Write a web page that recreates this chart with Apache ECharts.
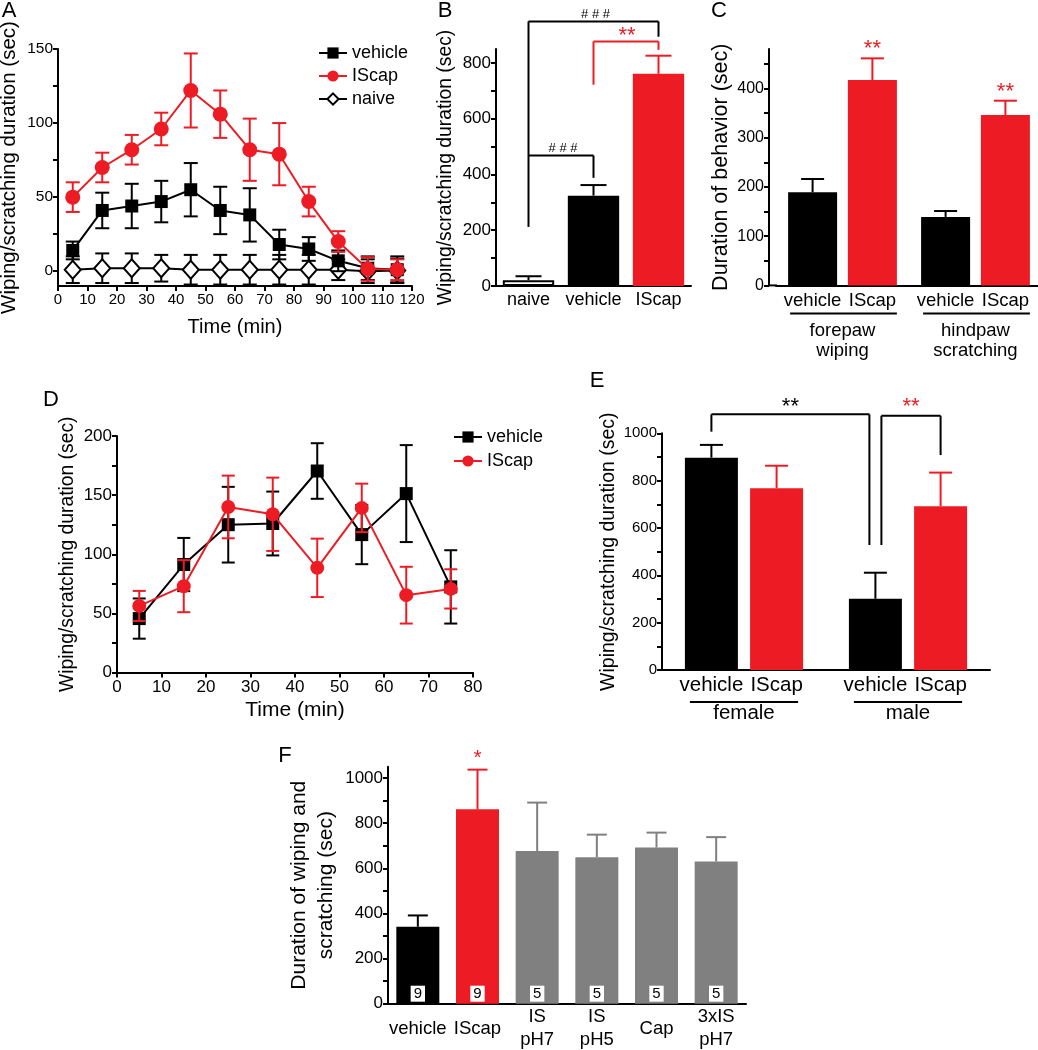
<!DOCTYPE html>
<html><head><meta charset="utf-8">
<script src="https://cdn.jsdelivr.net/npm/echarts@6/dist/echarts.min.js"></script>
<style>html,body{margin:0;padding:0;background:#fff}#c{width:1038px;height:1050px}</style>
</head><body><div id="c"></div>
<script>
// ---------- DATA ----------
// Panel A
const timeA = [5, 15, 25, 35, 45, 55, 65, 75, 85, 95, 105, 115];
const vehA = [14, 41, 44, 47, 55, 41, 38, 18, 15, 7, 2, 1];
const vehAErr = [6, 12, 15, 14, 18, 16, 18, 10, 8, 7, 8, 9];
const iscA = [50, 70, 82, 96, 122, 106, 82, 79, 47, 20, 1.5, 1];
const iscAErr = [10, 10, 10, 11, 25, 16, 21, 21, 10, 7, 8, 7];
const naiA = [1, 2, 2, 2, 1, 1, 1, 1, 1, 1, 0, 0.5];
const naiAErr = [9, 10, 10, 9, 10, 10, 10, 10, 10, 7, 8, 8];
// Panel B
const catsB = ['naive', 'vehicle', 'IScap'];
const valB = [21, 324, 761];
const errB = [14, 38, 65];
// Panel C
const groupsC = ['forepaw\nwiping', 'hindpaw\nscratching'];
const subLabels = ['vehicle', 'IScap'];
const vehC = [189, 139];
const vehCErr = [27, 12];
const iscC = [417, 346];
const iscCErr = [44, 29];
// Panel D
const timeD = [5, 15, 25, 35, 45, 55, 65, 75];
const vehD = [45.6, 91.3, 125, 126, 170.4, 116.6, 151.3, 72.4];
const vehDErr = [17, 22.5, 32, 27, 23.5, 25, 41, 31];
const iscD = [56.3, 73, 140, 133.8, 88.5, 139.2, 65.4, 70.7];
const iscDErr = [12.7, 22, 26.5, 31, 24.7, 20.5, 24, 16.6];
// Panel E
const groupsE = ['female', 'male'];
const vehE = [897, 301];
const vehEErr = [54, 110];
const iscE = [768, 692];
const iscEErr = [95, 142];
// Panel F
const catsF = ['vehicle', 'IScap', 'IS\npH7', 'IS\npH5', 'Cap', '3xIS\npH7'];
const valF = [341, 861, 676, 649, 692, 630];
const errF = [50, 176, 215, 100, 66, 108];
const nF = [9, 9, 5, 5, 5, 5];
// tick / label values
const ticksA = [0, 25, 50, 75, 100, 125, 150], labelsA = [0, 50, 100, 150];
const ticksB = [0, 100, 200, 300, 400, 500, 600, 700, 800], labelsB = [0, 200, 400, 600, 800];
const ticksC = [0, 50, 100, 150, 200, 250, 300, 350, 400, 450], labelsC = [0, 100, 200, 300, 400];
const ticksD = [0, 25, 50, 75, 100, 125, 150, 175, 200], labelsD = [0, 50, 100, 150, 200];
const ticksE = [0, 100, 200, 300, 400, 500, 600, 700, 800, 900, 1000], labelsE = [0, 200, 400, 600, 800, 1000];
const ticksF = [0, 100, 200, 300, 400, 500, 600, 700, 800, 900, 1000], labelsF = [0, 200, 400, 600, 800, 1000];
// significance annotations (data units)
const bracketsB = [ // [fromCat, toCat, level, leftEnd, rightEnd, text, color, textLevel]
  [0, 2, 949, 212, 894, '# # #', '#000', 975],
  [0, 1, 468, 468, 388, '# # #', '#000', 495],
  [1, 2, 877, 722, 847, '**', '#ED1C24', 896]
];
const bracketsE = { a: [1080, 1007, 528, 1110], b: [1074, 528, 908, 1110] };
const starC = [[0, '**'], [1, '**']];
const starF = [[1, '*']];

// ---------- STYLE ----------
const RED = '#ED1C24', GRAY = '#808080', FF = 'Liberation Sans, Arial, sans-serif';
const chart = echarts.init(document.getElementById('c'));

function yAx(grid, min, max, ticks, labels, fs, name, nameFs, nameGap, extra) {
  return Object.assign({
    type: 'value', gridIndex: grid, min: min, max: max,
    name: name, nameLocation: 'middle', nameGap: nameGap,
    nameTextStyle: { fontSize: nameFs, color: '#000', fontFamily: FF },
    axisLine: { show: true, onZero: false, lineStyle: { color: '#000', width: 2 } },
    axisTick: { show: true, length: 5, customValues: ticks, lineStyle: { color: '#000', width: 2 } },
    axisLabel: { customValues: labels, fontSize: fs, color: '#000', margin: 5, fontFamily: FF, formatter: v => String(v) },
    splitLine: { show: false }
  }, extra || {});
}
function xVal(grid, max, fs, nameFs, nameGap) {
  return {
    type: 'value', gridIndex: grid, min: 0, max: max, interval: 10,
    name: 'Time (min)', nameLocation: 'middle', nameGap: nameGap,
    nameTextStyle: { fontSize: nameFs, color: '#000', fontFamily: FF },
    axisLine: { show: true, onZero: false, lineStyle: { color: '#000', width: 2 } },
    axisTick: { show: true, length: 5, lineStyle: { color: '#000', width: 2 } },
    axisLabel: { fontSize: fs, color: '#000', margin: 6, hideOverlap: false, fontFamily: FF, formatter: v => String(v) },
    splitLine: { show: false }
  };
}
function xCat(grid, data, fs, margin, extraLabel) {
  return {
    type: 'category', gridIndex: grid, data: data,
    axisLine: { show: true, onZero: false, lineStyle: { color: '#000', width: 2 } },
    axisTick: { show: false },
    axisLabel: Object.assign({ interval: 0, fontSize: fs, color: '#000', margin: margin, fontFamily: FF }, extraLabel || {}),
    splitLine: { show: false }
  };
}
function errRender(capHalf, color, offsetPx, upOnly) {
  return function (params, api) {
    const x = api.value(0), y = api.value(1), e = api.value(2);
    const top = api.coord([x, y + e]);
    const bot = api.coord([x, upOnly ? y : y - e]);
    const c = typeof color === 'function' ? color(params.dataIndex) : color;
    const cx = top[0] + offsetPx;
    const st = { stroke: c, lineWidth: 2 };
    const ch = [
      { type: 'line', shape: { x1: cx, y1: top[1], x2: cx, y2: bot[1] }, style: st },
      { type: 'line', shape: { x1: cx - capHalf, y1: top[1], x2: cx + capHalf, y2: top[1] }, style: st }
    ];
    if (!upOnly) ch.push({ type: 'line', shape: { x1: cx - capHalf, y1: bot[1], x2: cx + capHalf, y2: bot[1] }, style: st });
    return { type: 'group', children: ch };
  };
}
function errData(xs, vals, errs) { return vals.map((v, i) => [xs[i], v, errs[i]]); }
function pts(xs, vals) { return vals.map((v, i) => [xs[i], v]); }
const idx = n => n.map((_, i) => i);
function errS(xi, render, data, z) {
  return { type: 'custom', xAxisIndex: xi, yAxisIndex: xi, renderItem: render, encode: { x: 0, y: 1 }, data: data, z: z, silent: true };
}

const option = {
  animation: false,
  textStyle: { fontFamily: FF, color: '#000' },
  grid: [
    { left: 58, top: 49, width: 354, height: 237, outerBoundsMode: 'none' },
    { left: 496, top: 49, width: 195, height: 237, outerBoundsMode: 'none' },
    { left: 776, top: 49, width: 266, height: 236.4, outerBoundsMode: 'none' },
    { left: 117, top: 436, width: 356, height: 236.5, outerBoundsMode: 'none' },
    { left: 662, top: 433.3, width: 328, height: 236.7, outerBoundsMode: 'none' },
    { left: 388, top: 766.7, width: 358, height: 237, outerBoundsMode: 'none' }
  ],
  xAxis: [
    xVal(0, 120, 15, 20, 31),
    xCat(1, catsB, 18, 5),
    xCat(2, groupsC, 18.5, 36, { lineHeight: 20 }),
    xVal(3, 80, 17, 21, 27),
    xCat(4, groupsE, 20.5, 33),
    xCat(5, catsF, 18.5, 25, { verticalAlign: 'middle', lineHeight: 23 })
  ],
  yAxis: [
    yAx(0, -10, 150, ticksA, labelsA, 15.5, 'Wiping/scratching duration (sec)', 20.5, 38),
    yAx(1, 0, 850, ticksB, labelsB, 17, 'Wiping/scratching duration (sec)', 19.3, 41),
    yAx(2, 0, 480, ticksC, labelsC, 16, 'Duration of behavior (sec)', 21.5, 37, { offset: 7 }),
    yAx(3, 0, 200, ticksD, labelsD, 17, 'Wiping/scratching duration (sec)', 19.3, 40),
    yAx(4, 0, 1000, ticksE, labelsE, 15, 'Wiping/scratching duration (sec)', 19.5, 43),
    yAx(5, 0, 1050, ticksF, labelsF, 17, 'Duration of wiping and\nscratching (sec)', 21, 48, { nameTextStyle: { fontSize: 21, color: '#000', fontFamily: FF, lineHeight: 27 } })
  ],
  legend: [
    { data: ['vehicle', 'IScap', 'naive'], orient: 'vertical', left: 318, top: 44, padding: 0, itemWidth: 28, itemHeight: 14, itemGap: 5,
      textStyle: { fontSize: 18, color: '#000', fontFamily: FF }, selectedMode: false },
    { data: ['vehicle', 'IScap'], orient: 'vertical', left: 453, top: 428, padding: 0, itemWidth: 28, itemHeight: 14, itemGap: 6,
      textStyle: { fontSize: 18, color: '#000', fontFamily: FF }, selectedMode: false }
  ],
  series: [
    // ----- A -----
    errS(0, errRender(7, '#000', 0, false), errData(timeA, naiA, naiAErr), 2),
    { type: 'line', name: 'naive', xAxisIndex: 0, yAxisIndex: 0, data: pts(timeA, naiA), symbol: 'diamond', symbolSize: [16, 18],
      itemStyle: { color: '#fff', borderColor: '#000', borderWidth: 2 }, lineStyle: { color: '#000', width: 2 }, z: 3 },
    errS(0, errRender(7, '#000', 0, false), errData(timeA, vehA, vehAErr), 4),
    { type: 'line', name: 'vehicle', xAxisIndex: 0, yAxisIndex: 0, data: pts(timeA, vehA), symbol: 'rect', symbolSize: 13,
      itemStyle: { color: '#000' }, lineStyle: { color: '#000', width: 2 }, z: 5 },
    errS(0, errRender(7, RED, 0, false), errData(timeA, iscA, iscAErr), 6),
    { type: 'line', name: 'IScap', xAxisIndex: 0, yAxisIndex: 0, data: pts(timeA, iscA), symbol: 'circle', symbolSize: 15,
      itemStyle: { color: RED }, lineStyle: { color: RED, width: 2 }, z: 7 },
    // ----- B -----
    { type: 'bar', id: 'B-bar', xAxisIndex: 1, yAxisIndex: 1, barWidth: '79%',
      data: valB.map((v, i) => ({ value: v, itemStyle: i === 0 ? { color: '#fff', borderColor: '#000', borderWidth: 2 } : { color: i === 1 ? '#000' : RED } })) },
    errS(1, errRender(13, i => (i === 2 ? RED : '#000'), 0, true), errData(idx(valB), valB, errB), 3),
    // ----- C -----
    { type: 'bar', id: 'C-veh', name: 'C-vehicle', xAxisIndex: 2, yAxisIndex: 2, barWidth: 49, barGap: '22%', data: vehC, itemStyle: { color: '#000' },
      label: { show: true, position: 'bottom', distance: 6, formatter: () => subLabels[0], fontSize: 18.5, color: '#000', fontFamily: FF } },
    { type: 'bar', id: 'C-isc', name: 'C-IScap', xAxisIndex: 2, yAxisIndex: 2, barWidth: 49, barGap: '22%', data: iscC, itemStyle: { color: RED },
      label: { show: true, position: 'bottom', distance: 6, formatter: () => subLabels[1], fontSize: 18.5, color: '#000', fontFamily: FF } },
    errS(2, errRender(11.5, '#000', -29.9, true), errData(idx(vehC), vehC, vehCErr), 3),
    errS(2, errRender(11.5, RED, 29.9, true), errData(idx(iscC), iscC, iscCErr), 3),
    // ----- D -----
    errS(3, errRender(6.5, '#000', 0, false), errData(timeD, vehD, vehDErr), 2),
    { type: 'line', name: 'vehicle', xAxisIndex: 3, yAxisIndex: 3, data: pts(timeD, vehD), symbol: 'rect', symbolSize: 13,
      itemStyle: { color: '#000' }, lineStyle: { color: '#000', width: 2 }, z: 3 },
    errS(3, errRender(6.5, RED, 0, false), errData(timeD, iscD, iscDErr), 4),
    { type: 'line', name: 'IScap', xAxisIndex: 3, yAxisIndex: 3, data: pts(timeD, iscD), symbol: 'circle', symbolSize: 14,
      itemStyle: { color: RED }, lineStyle: { color: RED, width: 2 }, z: 5 },
    // ----- E -----
    { type: 'bar', id: 'E-veh', name: 'E-vehicle', xAxisIndex: 4, yAxisIndex: 4, barWidth: 53, barGap: '23%', data: vehE, itemStyle: { color: '#000' },
      label: { show: true, position: 'bottom', distance: 5, formatter: () => subLabels[0], fontSize: 20.5, color: '#000', fontFamily: FF } },
    { type: 'bar', id: 'E-isc', name: 'E-IScap', xAxisIndex: 4, yAxisIndex: 4, barWidth: 53, barGap: '23%', data: iscE, itemStyle: { color: RED },
      label: { show: true, position: 'bottom', distance: 5, formatter: () => subLabels[1], fontSize: 20.5, color: '#000', fontFamily: FF } },
    errS(4, errRender(11.5, '#000', -32.6, true), errData(idx(vehE), vehE, vehEErr), 3),
    errS(4, errRender(11.5, RED, 32.6, true), errData(idx(iscE), iscE, iscEErr), 3),
    // ----- F -----
    { type: 'bar', id: 'F-bar', xAxisIndex: 5, yAxisIndex: 5, barWidth: 43,
      data: valF.map((v, i) => ({ value: v, itemStyle: { color: i === 0 ? '#000' : (i === 1 ? RED : GRAY) } })),
      label: { show: true, position: 'insideBottom', distance: 2, formatter: p => String(nF[p.dataIndex]), backgroundColor: '#fff',
        padding: [1, 3, 0, 3], fontSize: 15, color: '#000', fontFamily: FF } },
    errS(5, errRender(10, i => (i === 0 ? '#000' : (i === 1 ? RED : GRAY)), 0, true), errData(idx(valF), valF, errF), 3)
  ]
};
chart.setOption(option);

// ---------- annotations (positions derived from data through the axes) ----------
function P(grid, x, y) { return chart.convertToPixel({ gridIndex: grid }, [x, y]); }
function barLay(id, i) {
  const s = chart.getModel().getSeries().find(m => m.id === id);
  const l = s.getData().getItemLayout(i);
  return { x0: Math.min(l.x, l.x + l.width), x1: Math.max(l.x, l.x + l.width), cx: l.x + l.width / 2 };
}
const G = [];
function line(x1, y1, x2, y2, c) { G.push({ type: 'line', shape: { x1, y1, x2, y2 }, style: { stroke: c || '#000', lineWidth: 2 }, z: 100 }); }
function text(x, y, t, size, c) {
  G.push({ type: 'text', x, y, style: { text: t, fill: c || '#000', font: size + 'px ' + FF, textAlign: 'center', textVerticalAlign: 'middle' }, z: 100 });
}
// panel letters
text(9, 11, 'A', 22); text(445, 11, 'B', 22); text(719, 11, 'C', 22);
text(51, 400, 'D', 22); text(597, 381, 'E', 22); text(285, 756, 'F', 22);

// B brackets
bracketsB.forEach(b => {
  const l = P(1, b[0], b[2]), r = P(1, b[1], b[2]);
  const le = P(1, b[0], b[3]), re = P(1, b[1], b[4]);
  line(l[0], l[1], r[0], r[1], b[6]);
  line(l[0], l[1], le[0], le[1], b[6]);
  line(r[0], r[1], re[0], re[1], b[6]);
  const ty = P(1, b[0], b[7])[1];
  text((l[0] + r[0]) / 2 + (b[5][0] === '#' ? 2 : 1), ty, b[5], b[5][0] === '#' ? 13 : 22, b[6]);
});
// C stars, underlines, axis-line extension
starC.forEach(s => {
  const bl = barLay('C-isc', s[0]);
  const y = P(2, s[0], iscC[s[0]] + iscCErr[s[0]])[1];
  text(bl.cx, y - 9, s[1], 22, RED);
});
const baseC = P(2, 0, 0)[1];
line(768, baseC, 777, baseC);
[0, 1].forEach(g => {
  const a = barLay('C-veh', g), b = barLay('C-isc', g);
  line(a.x0 + 2, baseC + 28, b.x1, baseC + 28);
});
// E brackets, stars, underlines
const baseE = P(4, 0, 0)[1];
{
  const fv = barLay('E-veh', 0), mv = barLay('E-veh', 1), mi = barLay('E-isc', 1);
  const ya = P(4, 0, bracketsE.a[0])[1], yaL = P(4, 0, bracketsE.a[1])[1], yaR = P(4, 0, bracketsE.a[2])[1];
  const xl = fv.cx, xr = mv.cx - 6;
  line(xl, ya, xr, ya); line(xl, ya, xl, yaL); line(xr, ya, xr, yaR);
  text((xl + xr) / 2, P(4, 0, bracketsE.a[3])[1], '**', 22, '#000');
  const yb = P(4, 0, bracketsE.b[0])[1], ybL = P(4, 0, bracketsE.b[1])[1], ybR = P(4, 0, bracketsE.b[2])[1];
  const xl2 = mv.cx + 6, xr2 = mi.cx;
  line(xl2, yb, xr2, yb); line(xl2, yb, xl2, ybL); line(xr2, yb, xr2, ybR);
  text((xl2 + xr2) / 2, P(4, 0, bracketsE.b[3])[1], '**', 22, RED);
}
[0, 1].forEach(g => {
  const a = barLay('E-veh', g), b = barLay('E-isc', g);
  line(a.x0 + 5, baseE + 32, b.x1 - 5, baseE + 32);
});
// F star
starF.forEach(s => {
  const p = P(5, s[0], valF[s[0]] + errF[s[0]]);
  text(p[0], p[1] - 11, s[1], 21, RED);
});
chart.setOption({ graphic: G });
</script>
</body></html>
